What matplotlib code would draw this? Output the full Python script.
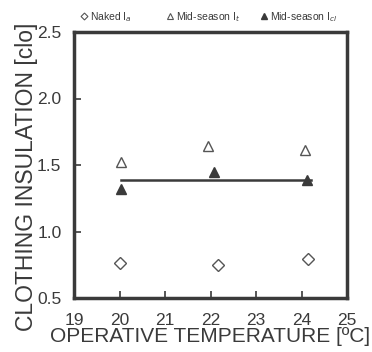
import matplotlib
matplotlib.use("Agg")
import matplotlib.pyplot as plt
from matplotlib.lines import Line2D

plt.rcParams['font.family'] = ['Liberation Sans', 'DejaVu Sans']

naked_x = [20.02, 22.17, 24.15]
naked_y = [0.76, 0.75, 0.79]
it_x = [20.04, 21.95, 24.08]
it_y = [1.525, 1.645, 1.61]
icl_x = [20.03, 22.07, 24.11]
icl_y = [1.32, 1.445, 1.39]
fit_x = [20.04, 24.2]
fit_y = [1.39, 1.39]

xticks = [19, 20, 21, 22, 23, 24, 25]
yticks = [0.5, 1.0, 1.5, 2.0, 2.5]

col = '#3a3a3a'
fig = plt.figure(figsize=(3.72, 3.52), dpi=100)
ax = fig.add_axes([74/372, 1-298/352, (347-74)/372, (298-32)/352])

ax.plot(fit_x, fit_y, color=col, lw=1.8, zorder=2)
ax.plot(naked_x, naked_y, 'D', mfc='white', mec='#555555', ms=6, mew=1.0, zorder=3)
ax.plot(it_x, it_y, '^', mfc='white', mec='#555555', ms=7, mew=1.0, zorder=3)
ax.plot(icl_x, icl_y, '^', mfc=col, mec=col, ms=7, zorder=3)

ax.set_xlim(19, 25)
ax.set_ylim(0.5, 2.5)
ax.set_xticks(xticks)
ax.set_xticklabels([str(t) for t in xticks])
ax.set_yticks(yticks)
ax.set_yticklabels(['0.5', '1.0', '1.5', '2.0', '2.5'])
ax.tick_params(direction='in', length=5, width=1.2, colors=col, labelsize=12.5)
ax.tick_params(axis='x', pad=11)
ax.tick_params(axis='y', pad=9)
for s in ax.spines.values():
    s.set_linewidth(2.5)
    s.set_color(col)

ax.set_xlabel('OPERATIVE TEMPERATURE [ºC]', fontsize=15, color=col, labelpad=-1)
ax.set_ylabel('CLOTHING INSULATION [clo]', fontsize=16.5, color=col)
ax.yaxis.set_label_coords(-0.132, 0.455)

handles = [
    Line2D([], [], marker='D', ls='none', mfc='white', mec='#555555', ms=3.5, mew=0.8),
    Line2D([], [], marker='^', ls='none', mfc='white', mec='#555555', ms=5, mew=0.8),
    Line2D([], [], marker='^', ls='none', mfc=col, mec=col, ms=5),
]
labels = ['Naked I$_a$', 'Mid-season I$_t$', 'Mid-season I$_{cl}$']
starts = [80, 166, 260]
for h, l, x0 in zip(handles, labels, starts):
    lg = fig.legend([h], [l], loc='center left', bbox_to_anchor=(x0/372, 1-17/352),
                    frameon=False, fontsize=7.5, handletextpad=0.2,
                    handlelength=0.8, borderpad=0, borderaxespad=0,
                    labelcolor=col)

fig.savefig('out.png', dpi=100)
